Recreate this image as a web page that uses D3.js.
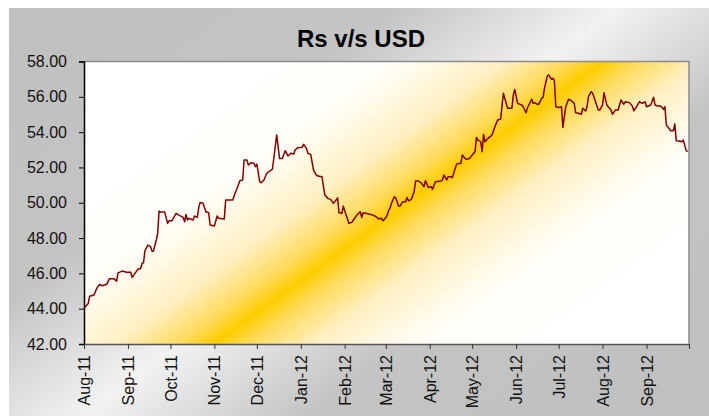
<!DOCTYPE html>
<html><head><meta charset="utf-8">
<script src="https://cdn.jsdelivr.net/npm/d3@7"></script>
<style>
body{margin:0;background:#fff}
svg{display:block}
text{font-family:"Liberation Sans",Arial,sans-serif}
</style>
</head><body>
<svg id="chart" width="709" height="416"></svg>
<script>
const chartTitle = "Rs v/s USD";
const yTicks = [42, 44, 46, 48, 50, 52, 54, 56, 58];
const monthTicks = ["2011-08-01","2011-09-01","2011-10-01","2011-11-01","2011-12-01","2012-01-01","2012-02-01","2012-03-01","2012-04-01","2012-05-01","2012-06-01","2012-07-01","2012-08-01","2012-09-01","2012-10-01"];
const xDomain = ["2011-08-01", "2012-10-01"];

const dates = [
"2011-08-01","2011-08-04","2011-08-05","2011-08-08","2011-08-10","2011-08-12","2011-08-14","2011-08-17","2011-08-19","2011-08-22",
"2011-08-24","2011-08-25","2011-08-28","2011-08-31","2011-09-03","2011-09-04","2011-09-06","2011-09-08","2011-09-10","2011-09-11",
"2011-09-12","2011-09-13","2011-09-15","2011-09-17","2011-09-18","2011-09-19","2011-09-21","2011-09-22","2011-09-23","2011-09-24",
"2011-09-27","2011-09-29","2011-09-30","2011-10-02","2011-10-05","2011-10-07","2011-10-10","2011-10-11","2011-10-12","2011-10-13",
"2011-10-14","2011-10-17","2011-10-18","2011-10-20","2011-10-21","2011-10-22","2011-10-24","2011-10-26","2011-10-28","2011-10-29",
"2011-11-01","2011-11-03","2011-11-04","2011-11-08","2011-11-09","2011-11-14","2011-11-16","2011-11-17","2011-11-19","2011-11-21",
"2011-11-22","2011-11-24","2011-11-25","2011-11-27","2011-11-29","2011-11-30","2011-12-01","2011-12-03","2011-12-04","2011-12-06",
"2011-12-08","2011-12-11","2011-12-12","2011-12-14","2011-12-15","2011-12-17","2011-12-19","2011-12-21","2011-12-23","2011-12-25",
"2011-12-27","2011-12-28","2011-12-30","2012-01-02","2012-01-03","2012-01-05","2012-01-06","2012-01-08","2012-01-10","2012-01-12",
"2012-01-13","2012-01-16","2012-01-17","2012-01-18","2012-01-20","2012-01-22","2012-01-24","2012-01-26","2012-01-27","2012-01-28",
"2012-01-30","2012-01-31","2012-02-02","2012-02-04","2012-02-06","2012-02-08","2012-02-10","2012-02-12","2012-02-13","2012-02-14",
"2012-02-18","2012-02-21","2012-02-23","2012-02-25","2012-02-27","2012-02-28","2012-03-01","2012-03-02","2012-03-03","2012-03-04",
"2012-03-05","2012-03-07","2012-03-08","2012-03-10","2012-03-11","2012-03-13","2012-03-15","2012-03-16","2012-03-17","2012-03-19",
"2012-03-21","2012-03-22","2012-03-24","2012-03-26","2012-03-28","2012-03-29","2012-03-31","2012-04-02","2012-04-03","2012-04-05",
"2012-04-09","2012-04-10","2012-04-11","2012-04-13","2012-04-14","2012-04-16","2012-04-17","2012-04-19","2012-04-20","2012-04-21",
"2012-04-23","2012-04-24","2012-04-26","2012-04-27","2012-04-29","2012-04-30","2012-05-02","2012-05-03","2012-05-04","2012-05-05",
"2012-05-07","2012-05-08","2012-05-09","2012-05-10","2012-05-11","2012-05-13","2012-05-15","2012-05-17","2012-05-19","2012-05-21",
"2012-05-22","2012-05-23","2012-05-24","2012-05-26","2012-05-29","2012-05-30","2012-05-31","2012-06-02","2012-06-05","2012-06-06",
"2012-06-08","2012-06-09","2012-06-12","2012-06-13","2012-06-14","2012-06-16","2012-06-17","2012-06-19","2012-06-20","2012-06-21",
"2012-06-23","2012-06-24","2012-06-26","2012-06-27","2012-06-28","2012-06-29","2012-07-01","2012-07-03","2012-07-04","2012-07-06",
"2012-07-08","2012-07-10","2012-07-12","2012-07-13","2012-07-15","2012-07-17","2012-07-18","2012-07-20","2012-07-21","2012-07-22",
"2012-07-24","2012-07-25","2012-07-27","2012-07-29","2012-07-30","2012-08-01","2012-08-02","2012-08-04","2012-08-05","2012-08-07",
"2012-08-08","2012-08-10","2012-08-12","2012-08-14","2012-08-16","2012-08-17","2012-08-20","2012-08-22","2012-08-23","2012-08-25",
"2012-08-27","2012-08-29","2012-08-31","2012-09-01","2012-09-04","2012-09-06","2012-09-07","2012-09-09","2012-09-11","2012-09-13",
"2012-09-14","2012-09-15","2012-09-16","2012-09-18","2012-09-20","2012-09-21","2012-09-22","2012-09-24","2012-09-26","2012-09-27",
"2012-09-29","2012-09-30"
];
const rates = [
44.02,44.30,44.71,44.77,45.15,45.38,45.30,45.38,45.70,45.70,
45.56,46.03,46.13,46.06,46.06,45.77,46.00,46.23,46.28,46.57,
46.60,47.28,47.60,47.51,47.26,47.26,47.89,48.27,49.53,49.47,
49.47,48.83,48.98,48.98,49.40,49.30,49.17,48.92,49.34,49.02,
49.12,49.02,49.25,49.17,49.74,50.02,49.97,49.49,49.43,48.74,
48.68,49.25,49.12,49.08,50.15,50.15,50.62,50.81,51.25,51.29,
52.42,52.42,52.14,52.27,52.23,52.04,52.19,51.19,51.13,51.29,
51.67,51.85,51.91,53.17,53.84,52.51,52.51,52.95,52.65,52.80,
52.76,52.99,53.12,53.14,53.31,53.08,52.80,52.74,51.85,51.57,
51.51,51.47,50.91,50.44,50.25,50.19,49.97,50.15,50.28,49.43,
49.40,49.81,49.30,48.83,48.89,49.12,49.34,49.49,49.17,49.43,
49.36,49.30,49.21,49.08,49.12,48.98,49.15,49.30,49.57,49.68,
49.97,50.34,50.28,49.81,49.81,50.06,50.06,50.30,50.11,50.19,
50.62,51.23,51.23,51.13,50.91,51.25,50.87,50.91,50.76,51.19,
51.23,51.29,51.57,51.29,51.47,51.47,51.42,51.95,52.19,52.23,
52.23,52.70,52.51,52.46,52.51,52.61,52.80,52.89,53.70,53.55,
53.46,52.89,53.87,53.45,53.55,53.70,53.84,54.31,54.69,54.73,
55.44,56.20,55.91,55.35,55.35,56.10,56.42,55.63,55.54,55.44,
55.10,55.38,55.86,55.63,55.67,55.58,55.58,55.91,55.97,56.48,
57.18,57.24,56.99,57.05,56.91,55.44,55.40,55.44,54.27,55.44,
55.86,55.78,55.63,55.10,55.07,55.01,55.35,55.20,55.42,56.00,
56.29,56.20,55.72,55.25,55.25,55.54,56.23,55.54,55.44,55.25,
55.01,55.25,55.25,55.82,55.58,55.72,55.67,55.48,55.21,55.44,
55.72,55.63,55.72,55.44,55.54,55.97,55.54,55.48,55.48,55.29,
55.44,54.40,54.31,54.08,54.08,54.46,53.51,53.50,53.46,53.55,
52.95,52.89
];

const W = 709, H = 416;
const plot = {left: 84, right: 689, top: 61.5, bottom: 344};
const parse = d3.timeParse("%Y-%m-%d");
const series = dates.map((d, i) => ({date: parse(d), value: rates[i]}));

const svg = d3.select("#chart");
const defs = svg.append("defs");

// outer chart background gradient (grey -> light -> grey, diagonal)
const og = defs.append("linearGradient").attr("id", "outerGrad")
  .attr("gradientUnits", "userSpaceOnUse")
  .attr("x1", 150).attr("y1", -60).attr("x2", 560).attr("y2", 476);
og.append("stop").attr("offset", 0).attr("stop-color", "#c0c0c0");
og.append("stop").attr("offset", 0.3).attr("stop-color", "#c4c4c4");
og.append("stop").attr("offset", 0.5).attr("stop-color", "#f2f2f2");
og.append("stop").attr("offset", 0.7).attr("stop-color", "#c4c4c4");
og.append("stop").attr("offset", 1).attr("stop-color", "#c0c0c0");

// plot area gradient (white -> gold -> white, diagonal band)
const cx = 408, cy = 203, nx = 0.587, ny = 0.810, half = 210;
const pg = defs.append("linearGradient").attr("id", "plotGrad")
  .attr("gradientUnits", "userSpaceOnUse")
  .attr("x1", cx - half * nx).attr("y1", cy - half * ny)
  .attr("x2", cx + half * nx).attr("y2", cy + half * ny);
[[0, "#ffffff"], [0.22, "#fffdf6"], [0.36, "#fff0c4"], [0.45, "#ffdb5c"], [0.5, "#ffcc00"],
 [0.55, "#ffdb5c"], [0.64, "#fff0c4"], [0.78, "#fffdf6"], [1, "#ffffff"]]
  .forEach(s => pg.append("stop").attr("offset", s[0]).attr("stop-color", s[1]));

svg.append("rect").attr("x", 9).attr("y", 8).attr("width", W - 9).attr("height", H - 8)
  .attr("fill", "url(#outerGrad)");

const x = d3.scaleTime().domain(xDomain.map(parse)).range([plot.left, plot.right]);
const y = d3.scaleLinear().domain([yTicks[0], yTicks[yTicks.length - 1]]).range([plot.bottom, plot.top]);

svg.append("rect")
  .attr("x", plot.left).attr("y", plot.top)
  .attr("width", plot.right - plot.left).attr("height", plot.bottom - plot.top)
  .attr("fill", "url(#plotGrad)");

// plot frame (top / right)
svg.append("path")
  .attr("d", `M${plot.left},${plot.top}H${plot.right}V${plot.bottom}`)
  .attr("fill", "none").attr("stroke", "#8c8c8c").attr("stroke-width", 1.5);

// title
svg.append("text").attr("x", 361).attr("y", 47).attr("text-anchor", "middle")
  .attr("font-size", 24).attr("font-weight", "bold").attr("fill", "#000")
  .text(chartTitle);

// y axis
const yAxis = svg.append("g").attr("transform", `translate(${plot.left},0)`)
  .call(d3.axisLeft(y).tickValues(yTicks).tickFormat(d3.format(".2f")).tickSize(5).tickPadding(12));
yAxis.select(".domain").attr("stroke", "#000").attr("stroke-width", 1.5);
yAxis.selectAll(".tick line").attr("stroke", "#000");
yAxis.selectAll(".tick text").attr("font-size", 16).attr("fill", "#111")
  .attr("font-family", "'Liberation Sans', Arial, sans-serif");

// x axis
const fmt = d3.timeFormat("%b-%y");
const lastTick = monthTicks[monthTicks.length - 1];
const xAxis = svg.append("g").attr("transform", `translate(0,${plot.bottom})`)
  .call(d3.axisBottom(x).tickValues(monthTicks.map(parse))
    .tickFormat(d => (fmt(d) === fmt(parse(lastTick)) ? "" : fmt(d))).tickSize(5).tickSizeOuter(0));
xAxis.select(".domain").attr("stroke", "#555").attr("stroke-width", 1.5);
xAxis.selectAll(".tick line").attr("stroke", "#333");
xAxis.selectAll(".tick text")
  .attr("font-size", 16).attr("fill", "#111")
  .attr("font-family", "'Liberation Sans', Arial, sans-serif")
  .attr("text-anchor", "end")
  .attr("transform", "rotate(-90)")
  .attr("x", -11).attr("y", 0).attr("dy", "0.35em");

// line
const line = d3.line().x(d => x(d.date)).y(d => y(d.value));
svg.append("path").datum(series)
  .attr("d", line).attr("fill", "none")
  .attr("stroke", "#800000").attr("stroke-width", 1.5).attr("stroke-linejoin", "round");
</script>
</body></html>
